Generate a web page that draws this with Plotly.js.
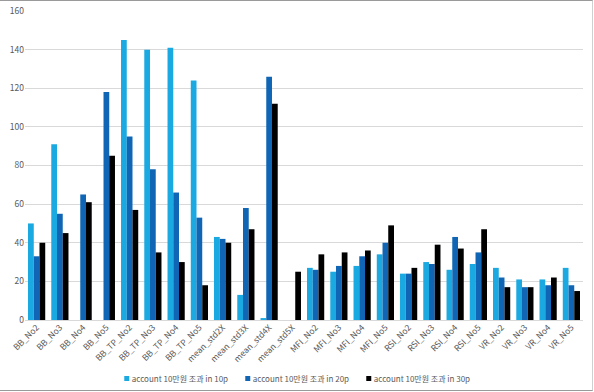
<!DOCTYPE html>
<html>
<head>
<meta charset="utf-8">
<script src="https://cdn.plot.ly/plotly-3.0.1.min.js"></script>
<style>
html,body{margin:0;padding:0;background:#fff;}
#frame{position:absolute;left:0;top:0;width:592px;height:389px;border-top:1px solid #9a9a9a;border-bottom:1px solid #9a9a9a;border-right:1px solid #d0d0d0;}
#chart{position:absolute;left:0;top:0;width:594px;height:392px;}
</style>
</head>
<body>
<div id="frame"></div>
<div id="chart"></div>
<script>
const categories = ["BB_No2","BB_No3","BB_No4","BB_No5","BB_TP_No2","BB_TP_No3","BB_TP_No4","BB_TP_No5","mean_std2X","mean_std3X","mean_std4X","mean_std5X","MFI_No2","MFI_No3","MFI_No4","MFI_No5","RSI_No2","RSI_No3","RSI_No4","RSI_No5","VR_No2","VR_No3","VR_No4","VR_No5"];
const in10p = [50,91,0,0,145,140,141,124,43,13,1,0,27,25,28,34,24,30,26,29,27,21,21,27];
const in20p = [33,55,65,118,95,78,66,53,42,58,126,0,26,28,33,40,24,29,43,35,22,17,18,18];
const in30p = [40,45,61,85,57,35,30,18,40,47,112,25,34,35,36,49,27,39,37,47,17,17,22,15];
const seriesNames = ["account 10만원 조과 in 10p","account 10만원 조과 in 20p","account 10만원 조과 in 30p"];
const yTicks = [0,20,40,60,80,100,120,140,160];

const colors = ["#1ba9e1","#1066b4","#000000"];
const data = [in10p,in20p,in30p].map((vals,i)=>({
  type:'bar', x:categories, y:vals, name:seriesNames[i],
  marker:{color:colors[i]}, hoverinfo:'skip'
}));
const layout = {
  width:594, height:392,
  margin:{l:25,r:11,t:11,b:72,autoexpand:false},
  paper_bgcolor:'rgba(0,0,0,0)', plot_bgcolor:'rgba(0,0,0,0)',
  barmode:'group', bargap:0.26, bargroupgap:0,
  font:{family:'"Noto Sans CJK KR", "Noto Sans", sans-serif', size:9, color:'#595959'},
  xaxis:{type:'category', tickangle:-45, showgrid:false, showline:false, zeroline:false, ticks:'',
    tickfont:{size:8.5,color:'#595959'}, automargin:false},
  yaxis:{range:[0,160], tickvals:yTicks, ticktext:yTicks.map(String), showgrid:true, gridcolor:'#d9d9d9', gridwidth:1,
    zeroline:true, zerolinecolor:'#d9d9d9', showline:false, ticks:'', tickfont:{size:8.5,color:'#595959'}, automargin:false},
  showlegend:true,
  legend:{orientation:'h', x:0.177, xanchor:'left', y:-0.142, yanchor:'top', font:{size:8,color:'#595959'},
    itemwidth:30, entrywidth:76, entrywidthmode:'pixels', tracegroupgap:0, traceorder:'normal'}
};
Plotly.newPlot('chart', data, layout, {staticPlot:true, displayModeBar:false}).then(gd => {
  // compact legend entries: small square marker with the label right next to it
  gd.querySelectorAll('.legend .traces').forEach(tr => {
    tr.querySelectorAll('.legendpoints path').forEach(p => {
      p.setAttribute('d', 'M2.5,2.5H-2.5V-2.5H2.5Z');
      p.setAttribute('transform', 'translate(3,0)');
    });
    tr.querySelectorAll('.legendtext').forEach(t => {
      t.setAttribute('x', 8);
      t.querySelectorAll('tspan[x]').forEach(s => s.setAttribute('x', 8));
    });
  });
});
</script>
</body>
</html>
